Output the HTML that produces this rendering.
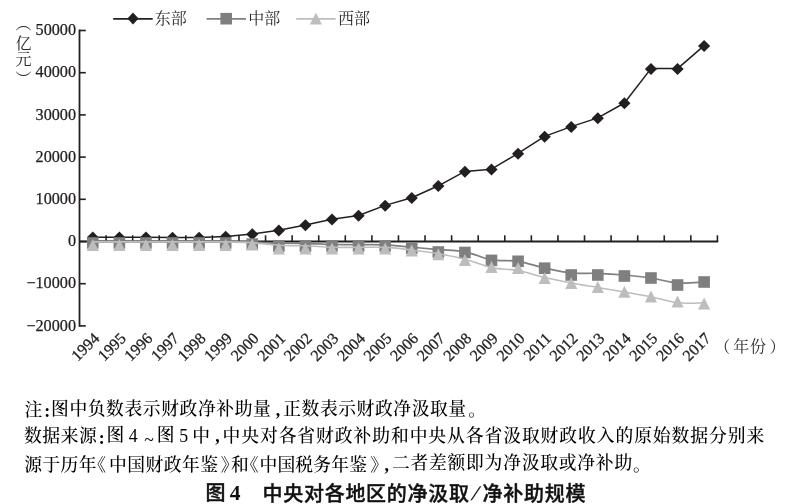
<!DOCTYPE html>
<html><head><meta charset="utf-8"><style>
html,body{margin:0;padding:0;background:#fff;}
body{width:793px;height:504px;position:relative;overflow:hidden;}
svg{position:absolute;left:0;top:0;}
.yl{font-family:"Liberation Serif",serif;font-size:32.4px;fill:#231f20;stroke:#231f20;stroke-width:0.5px;text-anchor:end;}
.xl{font-family:"Liberation Serif",serif;font-size:16px;fill:#231f20;stroke:#231f20;stroke-width:0.3px;text-anchor:end;}
.nt,.cap,.capn,.lab{position:absolute;line-height:1;white-space:nowrap;}
.nt{font-family:"Liberation Serif","Noto Serif CJK SC",serif;font-size:17.8px;font-weight:500;color:#000;}
.lab{font-family:"Liberation Serif","Noto Serif CJK SC",serif;font-size:16px;color:#2a2a2a;}
.cap{font-family:"Liberation Sans","Noto Sans CJK SC",sans-serif;font-weight:500;font-size:20px;color:#111;-webkit-text-stroke:0.4px #111;}
.vt{position:absolute;left:14.1px;top:18.7px;writing-mode:vertical-rl;font-family:"Liberation Serif","Noto Serif CJK SC",serif;font-size:16px;line-height:16px;color:#2a2a2a;white-space:nowrap;}
.capn{font-family:"Liberation Serif",serif;font-weight:bold;font-size:21.5px;color:#111;}
</style></head><body>
<svg width="793" height="504" viewBox="0 0 793 504">
<line x1="79.5" y1="29.60" x2="79.5" y2="326.80" stroke="#231f20" stroke-width="1.8"/>
<line x1="79.5" y1="325.90" x2="85.80" y2="325.90" stroke="#231f20" stroke-width="1.6"/>
<line x1="79.5" y1="283.70" x2="85.80" y2="283.70" stroke="#231f20" stroke-width="1.6"/>
<line x1="79.5" y1="241.50" x2="85.80" y2="241.50" stroke="#231f20" stroke-width="1.6"/>
<line x1="79.5" y1="199.30" x2="85.80" y2="199.30" stroke="#231f20" stroke-width="1.6"/>
<line x1="79.5" y1="157.10" x2="85.80" y2="157.10" stroke="#231f20" stroke-width="1.6"/>
<line x1="79.5" y1="114.90" x2="85.80" y2="114.90" stroke="#231f20" stroke-width="1.6"/>
<line x1="79.5" y1="72.70" x2="85.80" y2="72.70" stroke="#231f20" stroke-width="1.6"/>
<line x1="79.5" y1="30.50" x2="85.80" y2="30.50" stroke="#231f20" stroke-width="1.6"/>
<line x1="79.5" y1="241.5" x2="718.22" y2="241.5" stroke="#231f20" stroke-width="1.8"/>
<line x1="106.08" y1="241.5" x2="106.08" y2="235.30" stroke="#231f20" stroke-width="1.6"/>
<line x1="132.66" y1="241.5" x2="132.66" y2="235.30" stroke="#231f20" stroke-width="1.6"/>
<line x1="159.24" y1="241.5" x2="159.24" y2="235.30" stroke="#231f20" stroke-width="1.6"/>
<line x1="185.82" y1="241.5" x2="185.82" y2="235.30" stroke="#231f20" stroke-width="1.6"/>
<line x1="212.40" y1="241.5" x2="212.40" y2="235.30" stroke="#231f20" stroke-width="1.6"/>
<line x1="238.98" y1="241.5" x2="238.98" y2="235.30" stroke="#231f20" stroke-width="1.6"/>
<line x1="265.56" y1="241.5" x2="265.56" y2="235.30" stroke="#231f20" stroke-width="1.6"/>
<line x1="292.14" y1="241.5" x2="292.14" y2="235.30" stroke="#231f20" stroke-width="1.6"/>
<line x1="318.72" y1="241.5" x2="318.72" y2="235.30" stroke="#231f20" stroke-width="1.6"/>
<line x1="345.30" y1="241.5" x2="345.30" y2="235.30" stroke="#231f20" stroke-width="1.6"/>
<line x1="371.88" y1="241.5" x2="371.88" y2="235.30" stroke="#231f20" stroke-width="1.6"/>
<line x1="398.46" y1="241.5" x2="398.46" y2="235.30" stroke="#231f20" stroke-width="1.6"/>
<line x1="425.04" y1="241.5" x2="425.04" y2="235.30" stroke="#231f20" stroke-width="1.6"/>
<line x1="451.62" y1="241.5" x2="451.62" y2="235.30" stroke="#231f20" stroke-width="1.6"/>
<line x1="478.20" y1="241.5" x2="478.20" y2="235.30" stroke="#231f20" stroke-width="1.6"/>
<line x1="504.78" y1="241.5" x2="504.78" y2="235.30" stroke="#231f20" stroke-width="1.6"/>
<line x1="531.36" y1="241.5" x2="531.36" y2="235.30" stroke="#231f20" stroke-width="1.6"/>
<line x1="557.94" y1="241.5" x2="557.94" y2="235.30" stroke="#231f20" stroke-width="1.6"/>
<line x1="584.52" y1="241.5" x2="584.52" y2="235.30" stroke="#231f20" stroke-width="1.6"/>
<line x1="611.10" y1="241.5" x2="611.10" y2="235.30" stroke="#231f20" stroke-width="1.6"/>
<line x1="637.68" y1="241.5" x2="637.68" y2="235.30" stroke="#231f20" stroke-width="1.6"/>
<line x1="664.26" y1="241.5" x2="664.26" y2="235.30" stroke="#231f20" stroke-width="1.6"/>
<line x1="690.84" y1="241.5" x2="690.84" y2="235.30" stroke="#231f20" stroke-width="1.6"/>
<line x1="717.42" y1="241.5" x2="717.42" y2="235.30" stroke="#231f20" stroke-width="1.6"/>
<text transform="translate(76,35.20) scale(0.5)" class="yl">50000</text>
<text transform="translate(76,77.40) scale(0.5)" class="yl">40000</text>
<text transform="translate(76,119.60) scale(0.5)" class="yl">30000</text>
<text transform="translate(76,161.80) scale(0.5)" class="yl">20000</text>
<text transform="translate(76,204.00) scale(0.5)" class="yl">10000</text>
<text transform="translate(76,246.20) scale(0.5)" class="yl">0</text>
<text transform="translate(76,288.40) scale(0.5)" class="yl">−10000</text>
<text transform="translate(76,330.60) scale(0.5)" class="yl">−20000</text>
<text class="xl" transform="translate(100.29,339.40) rotate(-45)">1994</text>
<text class="xl" transform="translate(126.87,339.40) rotate(-45)">1995</text>
<text class="xl" transform="translate(153.45,339.40) rotate(-45)">1996</text>
<text class="xl" transform="translate(180.03,339.40) rotate(-45)">1997</text>
<text class="xl" transform="translate(206.61,339.40) rotate(-45)">1998</text>
<text class="xl" transform="translate(233.19,339.40) rotate(-45)">1999</text>
<text class="xl" transform="translate(259.77,339.40) rotate(-45)">2000</text>
<text class="xl" transform="translate(286.35,339.40) rotate(-45)">2001</text>
<text class="xl" transform="translate(312.93,339.40) rotate(-45)">2002</text>
<text class="xl" transform="translate(339.51,339.40) rotate(-45)">2003</text>
<text class="xl" transform="translate(366.09,339.40) rotate(-45)">2004</text>
<text class="xl" transform="translate(392.67,339.40) rotate(-45)">2005</text>
<text class="xl" transform="translate(419.25,339.40) rotate(-45)">2006</text>
<text class="xl" transform="translate(445.83,339.40) rotate(-45)">2007</text>
<text class="xl" transform="translate(472.41,339.40) rotate(-45)">2008</text>
<text class="xl" transform="translate(498.99,339.40) rotate(-45)">2009</text>
<text class="xl" transform="translate(525.57,339.40) rotate(-45)">2010</text>
<text class="xl" transform="translate(552.15,339.40) rotate(-45)">2011</text>
<text class="xl" transform="translate(578.73,339.40) rotate(-45)">2012</text>
<text class="xl" transform="translate(605.31,339.40) rotate(-45)">2013</text>
<text class="xl" transform="translate(631.89,339.40) rotate(-45)">2014</text>
<text class="xl" transform="translate(658.47,339.40) rotate(-45)">2015</text>
<text class="xl" transform="translate(685.05,339.40) rotate(-45)">2016</text>
<text class="xl" transform="translate(711.63,339.40) rotate(-45)">2017</text>
<polyline points="92.79,237.30 119.37,237.30 145.95,237.30 172.53,237.40 199.11,237.40 225.69,236.50 252.27,233.90 278.85,230.30 305.43,225.00 332.01,219.30 358.59,215.50 385.17,205.40 411.75,197.70 438.33,185.80 464.91,171.40 491.49,169.20 518.07,153.40 544.65,136.40 571.23,126.60 597.81,117.90 624.39,103.00 650.97,68.60 677.55,68.60 704.13,45.60" fill="none" stroke="#231f20" stroke-width="1.5" stroke-linejoin="round"/>
<path d="M92.79 231.60L98.89 237.60L92.79 243.60L86.69 237.60Z" fill="#231f20"/>
<path d="M119.37 231.60L125.47 237.60L119.37 243.60L113.27 237.60Z" fill="#231f20"/>
<path d="M145.95 231.60L152.05 237.60L145.95 243.60L139.85 237.60Z" fill="#231f20"/>
<path d="M172.53 231.70L178.63 237.70L172.53 243.70L166.43 237.70Z" fill="#231f20"/>
<path d="M199.11 231.70L205.21 237.70L199.11 243.70L193.01 237.70Z" fill="#231f20"/>
<path d="M225.69 230.80L231.79 236.80L225.69 242.80L219.59 236.80Z" fill="#231f20"/>
<path d="M252.27 228.20L258.37 234.20L252.27 240.20L246.17 234.20Z" fill="#231f20"/>
<path d="M278.85 224.60L284.95 230.60L278.85 236.60L272.75 230.60Z" fill="#231f20"/>
<path d="M305.43 219.30L311.53 225.30L305.43 231.30L299.33 225.30Z" fill="#231f20"/>
<path d="M332.01 213.60L338.11 219.60L332.01 225.60L325.91 219.60Z" fill="#231f20"/>
<path d="M358.59 209.80L364.69 215.80L358.59 221.80L352.49 215.80Z" fill="#231f20"/>
<path d="M385.17 199.70L391.27 205.70L385.17 211.70L379.07 205.70Z" fill="#231f20"/>
<path d="M411.75 192.00L417.85 198.00L411.75 204.00L405.65 198.00Z" fill="#231f20"/>
<path d="M438.33 180.10L444.43 186.10L438.33 192.10L432.23 186.10Z" fill="#231f20"/>
<path d="M464.91 165.70L471.01 171.70L464.91 177.70L458.81 171.70Z" fill="#231f20"/>
<path d="M491.49 163.50L497.59 169.50L491.49 175.50L485.39 169.50Z" fill="#231f20"/>
<path d="M518.07 147.70L524.17 153.70L518.07 159.70L511.97 153.70Z" fill="#231f20"/>
<path d="M544.65 130.70L550.75 136.70L544.65 142.70L538.55 136.70Z" fill="#231f20"/>
<path d="M571.23 120.90L577.33 126.90L571.23 132.90L565.13 126.90Z" fill="#231f20"/>
<path d="M597.81 112.20L603.91 118.20L597.81 124.20L591.71 118.20Z" fill="#231f20"/>
<path d="M624.39 97.30L630.49 103.30L624.39 109.30L618.29 103.30Z" fill="#231f20"/>
<path d="M650.97 62.90L657.07 68.90L650.97 74.90L644.87 68.90Z" fill="#231f20"/>
<path d="M677.55 62.90L683.65 68.90L677.55 74.90L671.45 68.90Z" fill="#231f20"/>
<path d="M704.13 39.90L710.23 45.90L704.13 51.90L698.03 45.90Z" fill="#231f20"/>
<path d="M92.79 241.00C97.22 241.00 110.51 241.00 119.37 241.00C128.23 241.00 137.09 241.00 145.95 241.00C154.81 241.00 163.67 241.00 172.53 241.00C181.39 241.00 190.25 241.00 199.11 241.00C207.97 241.00 216.83 240.80 225.69 241.00C234.55 241.20 243.41 241.85 252.27 242.20C261.13 242.55 269.99 242.92 278.85 243.10C287.71 243.28 296.57 243.07 305.43 243.30C314.29 243.53 323.15 244.28 332.01 244.50C340.87 244.72 349.73 244.55 358.59 244.60C367.45 244.65 376.31 244.37 385.17 244.80C394.03 245.23 402.89 246.40 411.75 247.20C420.61 248.00 429.47 248.83 438.33 249.60C447.19 250.37 456.05 250.08 464.91 251.80C473.77 253.52 482.63 258.32 491.49 259.90C500.35 261.48 509.21 259.95 518.07 261.30C526.93 262.65 535.79 266.05 544.65 268.00C553.51 269.95 562.37 272.12 571.23 273.00C580.09 273.88 588.95 272.97 597.81 273.30C606.67 273.63 615.53 274.22 624.39 275.00C633.25 275.78 642.11 276.67 650.97 278.00C659.83 279.33 668.69 282.33 677.55 283.00C686.41 283.67 699.70 282.17 704.13 282.00" fill="none" stroke="#7f7f7f" stroke-width="1.7" stroke-linejoin="round"/>
<rect x="86.99" y="237.20" width="11.6" height="11.6" fill="#7f7f7f"/>
<rect x="113.57" y="237.20" width="11.6" height="11.6" fill="#7f7f7f"/>
<rect x="140.15" y="237.20" width="11.6" height="11.6" fill="#7f7f7f"/>
<rect x="166.73" y="237.20" width="11.6" height="11.6" fill="#7f7f7f"/>
<rect x="193.31" y="237.20" width="11.6" height="11.6" fill="#7f7f7f"/>
<rect x="219.89" y="237.20" width="11.6" height="11.6" fill="#7f7f7f"/>
<rect x="246.47" y="238.30" width="11.6" height="11.6" fill="#7f7f7f"/>
<rect x="273.05" y="240.30" width="11.6" height="11.6" fill="#7f7f7f"/>
<rect x="299.63" y="240.30" width="11.6" height="11.6" fill="#7f7f7f"/>
<rect x="326.21" y="240.20" width="11.6" height="11.6" fill="#7f7f7f"/>
<rect x="352.79" y="240.20" width="11.6" height="11.6" fill="#7f7f7f"/>
<rect x="379.37" y="240.20" width="11.6" height="11.6" fill="#7f7f7f"/>
<rect x="405.95" y="242.50" width="11.6" height="11.6" fill="#7f7f7f"/>
<rect x="432.53" y="246.20" width="11.6" height="11.6" fill="#7f7f7f"/>
<rect x="459.11" y="246.70" width="11.6" height="11.6" fill="#7f7f7f"/>
<rect x="485.69" y="254.60" width="11.6" height="11.6" fill="#7f7f7f"/>
<rect x="512.27" y="255.50" width="11.6" height="11.6" fill="#7f7f7f"/>
<rect x="538.85" y="262.40" width="11.6" height="11.6" fill="#7f7f7f"/>
<rect x="565.43" y="269.20" width="11.6" height="11.6" fill="#7f7f7f"/>
<rect x="592.01" y="269.20" width="11.6" height="11.6" fill="#7f7f7f"/>
<rect x="618.59" y="270.20" width="11.6" height="11.6" fill="#7f7f7f"/>
<rect x="645.17" y="272.20" width="11.6" height="11.6" fill="#7f7f7f"/>
<rect x="671.75" y="279.20" width="11.6" height="11.6" fill="#7f7f7f"/>
<rect x="698.33" y="276.20" width="11.6" height="11.6" fill="#7f7f7f"/>
<path d="M92.79 241.90C97.22 241.90 110.51 241.90 119.37 241.90C128.23 241.90 137.09 241.90 145.95 241.90C154.81 241.90 163.67 241.90 172.53 241.90C181.39 241.90 190.25 241.90 199.11 241.90C207.97 241.90 216.83 241.75 225.69 241.90C234.55 242.05 243.41 242.23 252.27 242.80C261.13 243.37 269.99 244.80 278.85 245.30C287.71 245.80 296.57 245.48 305.43 245.80C314.29 246.12 323.15 246.93 332.01 247.20C340.87 247.47 349.73 247.37 358.59 247.40C367.45 247.43 376.31 246.97 385.17 247.40C394.03 247.83 402.89 248.93 411.75 250.00C420.61 251.07 429.47 252.27 438.33 253.80C447.19 255.33 456.05 256.90 464.91 259.20C473.77 261.50 482.63 265.72 491.49 267.60C500.35 269.48 509.21 268.85 518.07 270.50C526.93 272.15 535.79 275.42 544.65 277.50C553.51 279.58 562.37 281.33 571.23 283.00C580.09 284.67 588.95 286.00 597.81 287.50C606.67 289.00 615.53 290.45 624.39 292.00C633.25 293.55 642.11 295.00 650.97 296.80C659.83 298.60 668.69 301.80 677.55 302.80C686.41 303.80 699.70 302.80 704.13 302.80" fill="none" stroke="#bdbdbd" stroke-width="1.6" stroke-linejoin="round"/>
<path d="M92.79 239.00L98.89 251.00L86.69 251.00Z" fill="#bdbdbd"/>
<path d="M119.37 239.00L125.47 251.00L113.27 251.00Z" fill="#bdbdbd"/>
<path d="M145.95 239.00L152.05 251.00L139.85 251.00Z" fill="#bdbdbd"/>
<path d="M172.53 239.00L178.63 251.00L166.43 251.00Z" fill="#bdbdbd"/>
<path d="M199.11 239.00L205.21 251.00L193.01 251.00Z" fill="#bdbdbd"/>
<path d="M225.69 239.00L231.79 251.00L219.59 251.00Z" fill="#bdbdbd"/>
<path d="M252.27 238.50L258.37 250.50L246.17 250.50Z" fill="#bdbdbd"/>
<path d="M278.85 242.40L284.95 254.40L272.75 254.40Z" fill="#bdbdbd"/>
<path d="M305.43 242.40L311.53 254.40L299.33 254.40Z" fill="#bdbdbd"/>
<path d="M332.01 242.40L338.11 254.40L325.91 254.40Z" fill="#bdbdbd"/>
<path d="M358.59 242.40L364.69 254.40L352.49 254.40Z" fill="#bdbdbd"/>
<path d="M385.17 242.50L391.27 254.50L379.07 254.50Z" fill="#bdbdbd"/>
<path d="M411.75 244.40L417.85 256.40L405.65 256.40Z" fill="#bdbdbd"/>
<path d="M438.33 248.30L444.43 260.30L432.23 260.30Z" fill="#bdbdbd"/>
<path d="M464.91 254.10L471.01 266.10L458.81 266.10Z" fill="#bdbdbd"/>
<path d="M491.49 260.90L497.59 272.90L485.39 272.90Z" fill="#bdbdbd"/>
<path d="M518.07 262.00L524.17 274.00L511.97 274.00Z" fill="#bdbdbd"/>
<path d="M544.65 271.90L550.75 283.90L538.55 283.90Z" fill="#bdbdbd"/>
<path d="M571.23 277.00L577.33 289.00L565.13 289.00Z" fill="#bdbdbd"/>
<path d="M597.81 281.10L603.91 293.10L591.71 293.10Z" fill="#bdbdbd"/>
<path d="M624.39 285.70L630.49 297.70L618.29 297.70Z" fill="#bdbdbd"/>
<path d="M650.97 290.40L657.07 302.40L644.87 302.40Z" fill="#bdbdbd"/>
<path d="M677.55 295.50L683.65 307.50L671.45 307.50Z" fill="#bdbdbd"/>
<path d="M704.13 297.40L710.23 309.40L698.03 309.40Z" fill="#bdbdbd"/>
<line x1="113.2" y1="18.8" x2="152.7" y2="18.8" stroke="#231f20" stroke-width="1.7"/>
<path d="M133.00 12.60L138.60 18.60L133.00 24.60L127.40 18.60Z" fill="#231f20"/>
<line x1="206.6" y1="18.8" x2="246" y2="18.8" stroke="#7f7f7f" stroke-width="1.7"/>
<rect x="220.40" y="12.90" width="11.6" height="11.6" fill="#7f7f7f"/>
<line x1="296.2" y1="18.8" x2="335.6" y2="18.8" stroke="#bdbdbd" stroke-width="1.7"/>
<path d="M315.90 12.70L321.95 24.50L309.85 24.50Z" fill="#bdbdbd"/>
</svg>
<span class="nt" style="left:24.59px;top:401.69px;">注</span>
<span class="nt" style="left:44.28px;top:403.49px;font-weight:700;">:</span>
<span class="nt" style="left:51.04px;top:401.33px;letter-spacing:0.58px;">图中负数表示财政净补助量</span>
<span class="nt" style="left:275.69px;top:401.99px;font-weight:700;">,</span>
<span class="nt" style="left:283.20px;top:401.16px;letter-spacing:0.57px;">正数表示财政净汲取量</span>
<span class="nt" style="left:468.29px;top:401.69px;">。</span>
<span class="nt" style="left:23.88px;top:427.79px;letter-spacing:0.63px;">数据来源</span>
<span class="nt" style="left:98.78px;top:429.59px;font-weight:700;">:</span>
<span class="nt" style="left:106.54px;top:427.43px;">图</span>
<span class="nt" style="left:128.64px;top:427.79px;">4</span>
<span class="nt" style="left:144.27px;top:431.79px;">~</span>
<span class="nt" style="left:156.74px;top:427.43px;">图</span>
<span class="nt" style="left:179.23px;top:427.79px;">5</span>
<span class="nt" style="left:192.13px;top:427.79px;">中</span>
<span class="nt" style="left:215.29px;top:428.09px;font-weight:700;">,</span>
<span class="nt" style="left:222.53px;top:427.79px;letter-spacing:0.93px;">中央对各省财政补助和中央从各省汲取财政收入的原始数据分别来</span>
<span class="nt" style="left:24.29px;top:457.01px;letter-spacing:0.37px;">源于历年</span>
<span class="nt" style="left:88.36px;top:457.01px;">《</span>
<span class="nt" style="left:108.93px;top:457.19px;letter-spacing:0.50px;">中国财政年鉴</span>
<span class="nt" style="left:220.79px;top:457.01px;">》</span>
<span class="nt" style="left:230.88px;top:457.10px;">和</span>
<span class="nt" style="left:240.66px;top:457.01px;">《</span>
<span class="nt" style="left:259.43px;top:457.19px;letter-spacing:0.18px;">中国税务年鉴</span>
<span class="nt" style="left:370.29px;top:457.01px;">》</span>
<span class="nt" style="left:384.49px;top:457.31px;font-weight:700;">,</span>
<span class="nt" style="left:391.91px;top:455.14px;letter-spacing:0.76px;">二者差额即为净汲取或净补助</span>
<span class="nt" style="left:632.89px;top:457.01px;">。</span>
<span class="cap" style="left:205.50px;top:483.40px;">图</span>
<span class="capn" style="left:229.68px;top:483.13px;">4</span>
<span class="cap" style="left:262.50px;top:484.20px;letter-spacing:0.72px;">中央对各地区的净汲取</span>
<span class="cap" style="left:476.8px;top:484.0px;font-family:'Liberation Sans',sans-serif;font-weight:normal;-webkit-text-stroke:0;font-size:19px;transform:skewX(-22deg);transform-origin:0 0;">/</span>
<span class="cap" style="left:482.60px;top:484.20px;letter-spacing:0.75px;">净补助规模</span>
<span class="lab" style="left:714.30px;top:339.12px;">（</span>
<span class="lab" style="left:733.36px;top:339.12px;letter-spacing:0.70px;">年份</span>
<span class="lab" style="left:769.56px;top:339.12px;">）</span>
<span class="lab" style="left:154.64px;top:10.68px;letter-spacing:0.00px;">东部</span>
<span class="lab" style="left:248.22px;top:10.68px;letter-spacing:0.00px;">中部</span>
<span class="lab" style="left:338.08px;top:10.68px;letter-spacing:0.00px;">西部</span>
<div class="vt"><span style="position:relative;top:-3.6px">（</span>亿元<span style="position:relative;top:4.8px">）</span></div>
</body></html>
